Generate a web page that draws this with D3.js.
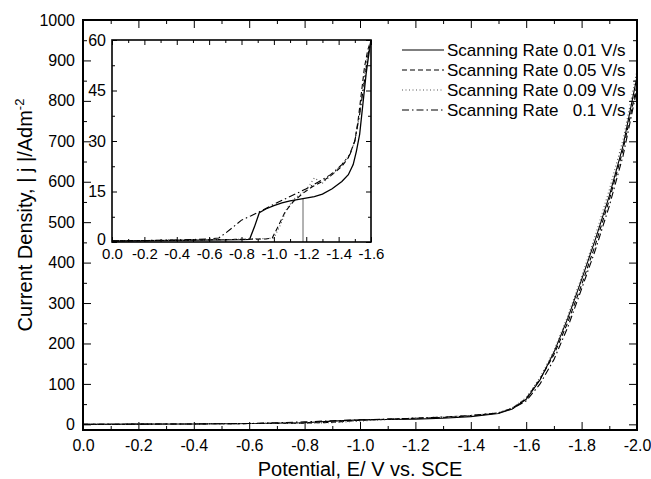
<!DOCTYPE html>
<html>
<head>
<meta charset="utf-8">
<script src="https://cdn.jsdelivr.net/npm/d3@7"></script>
<style>
  body { margin: 0; background: #fff; }
  svg { display: block; font-family: Arial, "Liberation Sans", sans-serif; }
  .tick line { stroke: #000; }
  .domain { display: none; }
</style>
</head>
<body>
<div id="chart"></div>
<script>

// Data ///////////////////////////////////////////

const rateLabels = ["Scanning Rate 0.01 V/s", "Scanning Rate 0.05 V/s", "Scanning Rate 0.09 V/s", "Scanning Rate   0.1 V/s"];

// main plot, potential (V vs SCE)
const potMain = [0, -0.2, -0.4, -0.6, -0.8, -0.9, -1.0, -1.1, -1.2, -1.3, -1.4, -1.5, -1.55, -1.6, -1.65, -1.7, -1.75, -1.8, -1.85, -1.9, -1.95, -2.0];
const rate001Main = [0, 0.5, 1, 2, 4, 8, 11, 12, 13, 15, 19, 27, 38, 62, 110, 178, 262, 358, 458, 565, 690, 860];
const rate005Main = [0, 0.5, 1, 2, 3, 5, 10, 13, 15, 17, 21, 28, 40, 64, 112, 172, 252, 345, 445, 555, 680, 840];
const rate009Main = [0, 0.5, 1, 2, 3, 4, 8, 12, 16, 18, 22, 29, 41, 66, 116, 182, 268, 365, 468, 580, 705, 875];
const rate01Main  = [0, 0.5, 1, 2, 6, 9, 11, 13, 15, 18, 22, 28, 39, 58, 100, 160, 240, 335, 432, 540, 665, 830];

// inset, each curve has its own potentials
const pot001Inset = [0, -0.4, -0.8, -0.85, -0.88, -0.91, -0.95, -1.0, -1.05, -1.1, -1.18, -1.25, -1.3, -1.36, -1.42, -1.46, -1.49, -1.51, -1.53, -1.55, -1.57, -1.59, -1.6];
const rate001Inset = [0.3, 0.5, 0.7, 0.8, 4.5, 8.7, 9.8, 10.8, 11.6, 12.2, 12.9, 13.5, 14.2, 15.8, 18, 20, 23, 27, 32, 41, 50, 57, 60];
const pot005Inset = [0, -0.4, -0.8, -0.95, -0.99, -1.03, -1.07, -1.12, -1.18, -1.24, -1.3, -1.36, -1.42, -1.46, -1.5, -1.52, -1.54, -1.56, -1.58, -1.6];
const rate005Inset = [0.3, 0.5, 0.8, 0.9, 1.2, 5, 9, 12, 14.5, 16.5, 18, 20, 22.5, 25, 30, 36, 44, 52, 57, 60];
const pot009Inset = [0, -0.4, -0.8, -0.85, -0.95, -1.0, -1.04, -1.08, -1.13, -1.2, -1.25, -1.3, -1.36, -1.42, -1.47, -1.5, -1.53, -1.55, -1.57, -1.59, -1.6];
const rate009Inset = [0.3, 0.5, 0.8, 1, 1, 1.2, 5, 10, 13, 15.5, 19, 17.5, 20, 23, 26, 30, 38, 46, 53, 58, 60];
const pot01Inset = [0, -0.4, -0.6, -0.66, -0.7, -0.75, -0.8, -0.86, -0.92, -1.0, -1.1, -1.2, -1.28, -1.35, -1.42, -1.47, -1.5, -1.53, -1.56, -1.58, -1.6];
const rate01Inset = [0.3, 0.6, 0.9, 1.2, 2.6, 4.5, 6.5, 7.8, 9.2, 11.2, 13.5, 15.8, 18, 20, 23, 26, 30, 38, 48, 55, 60];

// gray marker line in the inset
const markerPot = -1.18;
const markerJ = 12.9;

const mainXTicks = [0, -0.2, -0.4, -0.6, -0.8, -1.0, -1.2, -1.4, -1.6, -1.8, -2.0];
const mainYTicks = [0, 100, 200, 300, 400, 500, 600, 700, 800, 900, 1000];
const insetXTicks = [0, -0.2, -0.4, -0.6, -0.8, -1.0, -1.2, -1.4, -1.6];
const insetYTicks = [0, 15, 30, 45, 60];

// Styles per series //////////////////////////////

const dashes = ["none", "5,3", "1,2.5", "7,3,1.5,3"];
const strokes = ["#000", "#000", "#555", "#000"];

const fmtX = d => (Math.abs(d) < 1e-9 ? 0 : d).toFixed(1);
const fmtY = d => String(d);

// Chart //////////////////////////////////////////

const svg = d3.select("#chart").append("svg")
    .attr("width", 651)
    .attr("height", 479);

const defs = svg.append("defs");

const x = d3.scaleLinear().domain([0, -2]).range([83, 637]);
const y = d3.scaleLinear().domain([-14, 1000]).range([430, 20]);

const minor = arr => {
    const out = [];
    for (let i = 0; i < arr.length - 1; i++) out.push((arr[i] + arr[i + 1]) / 2);
    return out;
};

function frameAxes(g, xs, ys, xt, yt, opt) {
    const [x0, x1] = xs.range();
    const [y0, y1] = ys.range();

    g.append("g").attr("transform", `translate(0,${y0})`)
        .call(d3.axisBottom(xs).tickValues(xt).tickSize(-opt.major).tickPadding(opt.padX).tickFormat(fmtX))
        .call(a => a.selectAll("text").attr("fill", "#000").style("font-size", opt.fontX + "px"));
    g.append("g").attr("transform", `translate(0,${y0})`)
        .call(d3.axisBottom(xs).tickValues(minor(xt)).tickSize(-opt.minor).tickFormat(""));
    g.append("g").attr("transform", `translate(0,${y1})`)
        .call(d3.axisTop(xs).tickValues(xt).tickSize(-opt.major).tickFormat(""));
    g.append("g").attr("transform", `translate(0,${y1})`)
        .call(d3.axisTop(xs).tickValues(minor(xt)).tickSize(-opt.minor).tickFormat(""));

    g.append("g").attr("transform", `translate(${x0},0)`)
        .call(d3.axisLeft(ys).tickValues(yt).tickSize(-opt.major).tickPadding(opt.padY).tickFormat(fmtY))
        .call(a => a.selectAll("text").attr("fill", "#000").style("font-size", opt.fontY + "px"));
    g.append("g").attr("transform", `translate(${x0},0)`)
        .call(d3.axisLeft(ys).tickValues(minor(yt)).tickSize(-opt.minor).tickFormat(""));
    g.append("g").attr("transform", `translate(${x1},0)`)
        .call(d3.axisRight(ys).tickValues(yt).tickSize(-opt.major).tickFormat(""));
    g.append("g").attr("transform", `translate(${x1},0)`)
        .call(d3.axisRight(ys).tickValues(minor(yt)).tickSize(-opt.minor).tickFormat(""));
}

// main plot

const mainSeries = [rate001Main, rate005Main, rate009Main, rate01Main];
const mainLine = d3.line().x(d => x(d[0])).y(d => y(d[1]));

const main = svg.append("g");

defs.append("clipPath").attr("id", "clip-main")
    .append("rect")
    .attr("x", x(0)).attr("y", y(1000))
    .attr("width", x(-2) - x(0)).attr("height", y.range()[0] - y(1000));

main.append("g").attr("clip-path", "url(#clip-main)")
    .selectAll("path")
    .data(mainSeries)
    .join("path")
    .attr("d", vals => mainLine(potMain.map((p, i) => [p, vals[i]])))
    .attr("fill", "none")
    .attr("stroke", (d, i) => strokes[i])
    .attr("stroke-width", 1.1)
    .attr("stroke-dasharray", (d, i) => dashes[i]);

frameAxes(main, x, y, mainXTicks, mainYTicks,
    { major: 8, minor: 4, fontX: 16, fontY: 16, padX: 10, padY: 8 });

main.append("rect")
    .attr("x", x(0)).attr("y", y(1000))
    .attr("width", x(-2) - x(0)).attr("height", y.range()[0] - y(1000))
    .attr("fill", "none").attr("stroke", "#000").attr("stroke-width", 2);

// axis titles

svg.append("text")
    .attr("x", (x(0) + x(-2)) / 2)
    .attr("y", 476)
    .attr("text-anchor", "middle")
    .style("font-size", "20px")
    .text("Potential, E/ V vs. SCE");

const yTitle = svg.append("text")
    .attr("transform", "translate(32,215) rotate(-90)")
    .attr("text-anchor", "middle")
    .style("font-size", "20px");
yTitle.append("tspan").text("Current Density, | j |/Adm");
yTitle.append("tspan").attr("dy", -8).style("font-size", "13px").text("-2");

// Inset //////////////////////////////////////////

const ix = d3.scaleLinear().domain([0, -1.6]).range([112, 371]);
const iy = d3.scaleLinear().domain([0, 60]).range([242, 40]);

const inset = svg.append("g");

inset.append("rect")
    .attr("x", ix(0)).attr("y", iy(60))
    .attr("width", ix(-1.6) - ix(0)).attr("height", iy(0) - iy(60))
    .attr("fill", "#fff");

defs.append("clipPath").attr("id", "clip-inset")
    .append("rect")
    .attr("x", ix(0)).attr("y", iy(60))
    .attr("width", ix(-1.6) - ix(0)).attr("height", iy(0) - iy(60));

const insetSeries = [
    [pot001Inset, rate001Inset],
    [pot005Inset, rate005Inset],
    [pot009Inset, rate009Inset],
    [pot01Inset, rate01Inset]
];
const insetLine = d3.line().x(d => ix(d[0])).y(d => iy(d[1]));

const insetPlot = inset.append("g").attr("clip-path", "url(#clip-inset)");

insetPlot.append("line")
    .attr("x1", ix(markerPot)).attr("x2", ix(markerPot))
    .attr("y1", iy(0)).attr("y2", iy(markerJ))
    .attr("stroke", "#999").attr("stroke-width", 1.5);

insetPlot.selectAll("path")
    .data(insetSeries)
    .join("path")
    .attr("d", ([p, j]) => insetLine(p.map((v, i) => [v, j[i]])))
    .attr("fill", "none")
    .attr("stroke", (d, i) => strokes[i])
    .attr("stroke-width", (d, i) => i === 0 ? 1.3 : 1.1)
    .attr("stroke-dasharray", (d, i) => dashes[i]);

frameAxes(inset, ix, iy, insetXTicks, insetYTicks,
    { major: 5, minor: 3, fontX: 15, fontY: 16, padX: 6, padY: 6 });

// nudge the inset "0" up a little so it clears "0.0"
inset.selectAll("text").filter(function() { return this.textContent === "0"; })
    .attr("dy", "0.15em");

inset.append("rect")
    .attr("x", ix(0)).attr("y", iy(60))
    .attr("width", ix(-1.6) - ix(0)).attr("height", iy(0) - iy(60))
    .attr("fill", "none").attr("stroke", "#000").attr("stroke-width", 1.6);

// Legend /////////////////////////////////////////

const legend = svg.append("g").attr("transform", "translate(402,50)");

const rows = legend.selectAll("g")
    .data(rateLabels)
    .join("g")
    .attr("transform", (d, i) => `translate(0,${i * 20})`);

rows.append("line")
    .attr("x1", 0).attr("x2", 42)
    .attr("stroke", (d, i) => strokes[i])
    .attr("stroke-width", 1.1)
    .attr("stroke-dasharray", (d, i) => dashes[i]);

rows.append("text")
    .attr("x", 45)
    .attr("dy", "0.35em")
    .style("font-size", "17px")
    .style("white-space", "pre")
    .text(d => d);

</script>
</body>
</html>
